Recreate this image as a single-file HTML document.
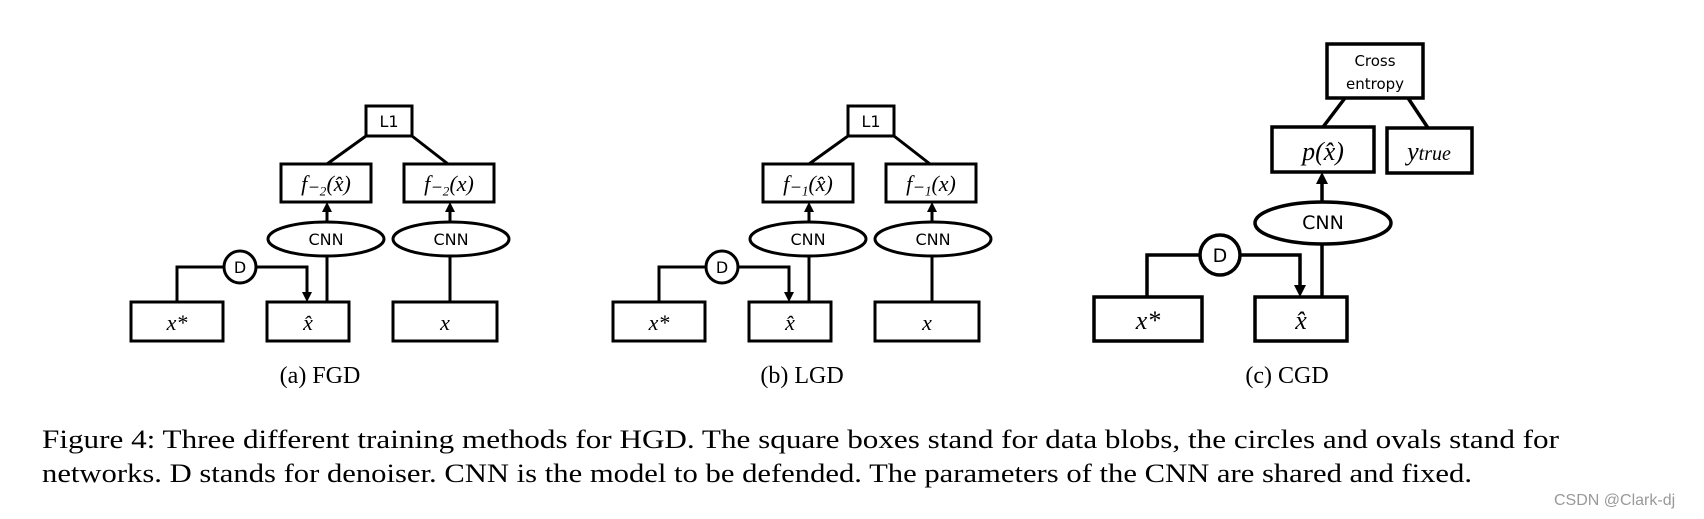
<!DOCTYPE html>
<html><head><meta charset="utf-8"><style>
html,body{margin:0;padding:0;background:#fff;}
svg{display:block}
.s{font-family:"DejaVu Sans","Liberation Sans",sans-serif;}
.m{font-family:"Liberation Serif",serif;font-style:italic;}
.c{font-family:"Liberation Serif",serif;}
</style></head><body>
<svg width="1704" height="519" viewBox="0 0 1704 519" xmlns="http://www.w3.org/2000/svg">
<defs>
<marker id="ar" markerWidth="8" markerHeight="8" refX="6" refY="4" orient="auto" markerUnits="userSpaceOnUse">
<path d="M0,0 L7,4 L0,8 Z" fill="#000"/></marker>
<g id="panel" fill="none" stroke="#000" stroke-width="3">
<rect x="131" y="302" width="92" height="39"/>
<rect x="267" y="302" width="82" height="39"/>
<rect x="393" y="302" width="104" height="39"/>
<rect x="366" y="106" width="46" height="30"/>
<rect x="281" y="164" width="90" height="38"/>
<rect x="404" y="164" width="90" height="38"/>
<ellipse cx="326" cy="239" rx="58" ry="17" fill="#fff"/>
<ellipse cx="451" cy="239" rx="58" ry="17" fill="#fff"/>
<circle cx="240" cy="267" r="16" fill="#fff"/>
<polyline points="177,302 177,267 224,267"/>
<polyline points="256,267 307,267 307,294"/>
<path d="M302,292 L307,302 L312,292 Z" fill="#000" stroke="none"/>
<line x1="327" y1="302" x2="327" y2="256"/>
<line x1="327" y1="222" x2="327" y2="210"/>
<path d="M322,212 L327,202 L332,212 Z" fill="#000" stroke="none"/>
<line x1="450" y1="302" x2="450" y2="256"/>
<line x1="450" y1="222" x2="450" y2="210"/>
<path d="M445,212 L450,202 L455,212 Z" fill="#000" stroke="none"/>
<line x1="366" y1="136" x2="327" y2="164"/>
<line x1="412" y1="136" x2="448" y2="164"/>
</g>
</defs>
<use href="#panel"/>
<use href="#panel" x="482"/>
<g class="s" font-size="16" text-anchor="middle">
<text x="389" y="127">L1</text><text x="871" y="127">L1</text>
<text x="326" y="245">CNN</text><text x="451" y="245">CNN</text>
<text x="808" y="245">CNN</text><text x="933" y="245">CNN</text>
<text x="240" y="273">D</text><text x="722" y="273">D</text>
</g>
<g class="m" font-size="22" text-anchor="middle">
<text x="177" y="330">x*</text><text x="308" y="330">x̂</text><text x="445" y="330">x</text>
<text x="659" y="330">x*</text><text x="790" y="330">x̂</text><text x="927" y="330">x</text>
<text x="326" y="191">f₋₂(x̂)</text><text x="449" y="191">f₋₂(x)</text>
<text x="808" y="191">f₋₁(x̂)</text><text x="931" y="191">f₋₁(x)</text>
</g>
<g fill="none" stroke="#000" stroke-width="3.5">
<rect x="1327" y="44" width="96" height="54"/>
<rect x="1272" y="127" width="102" height="45"/>
<rect x="1387" y="128" width="85" height="45"/>
<rect x="1094" y="297" width="108" height="44"/>
<rect x="1255" y="297" width="92" height="44"/>
<ellipse cx="1323" cy="223" rx="68" ry="21" fill="#fff"/>
<circle cx="1220" cy="255" r="20" fill="#fff"/>
<polyline points="1147,297 1147,255 1200,255"/>
<polyline points="1240,255 1300,255 1300,287"/>
<line x1="1322" y1="297" x2="1322" y2="244"/>
<line x1="1322" y1="202" x2="1322" y2="184"/>
<line x1="1345" y1="98" x2="1323" y2="127"/>
<line x1="1408" y1="98" x2="1428" y2="128"/>
</g>
<path d="M1294,285 L1300,297 L1306,285 Z" fill="#000"/>
<path d="M1316,184 L1322,172 L1328,184 Z" fill="#000"/>
<g class="s" text-anchor="middle">
<text x="1375" y="66" font-size="15">Cross</text>
<text x="1375" y="89" font-size="15">entropy</text>
<text x="1323" y="229" font-size="19">CNN</text>
<text x="1220" y="262" font-size="19">D</text>
</g>
<g class="m" text-anchor="middle" font-size="26">
<text x="1148" y="329">x*</text><text x="1301" y="329">x̂</text>
<text x="1323" y="160">p(x̂)</text>
<text x="1429" y="160">y<tspan font-size="20">true</tspan></text>
</g>
<g class="c" font-size="24" text-anchor="middle">
<text x="320" y="383">(a) FGD</text>
<text x="802" y="383">(b) LGD</text>
<text x="1287" y="383">(c) CGD</text>
</g>
<g class="c" font-size="26">
<text x="42" y="448" textLength="1517" lengthAdjust="spacingAndGlyphs">Figure 4: Three different training methods for HGD. The square boxes stand for data blobs, the circles and ovals stand for</text>
<text x="42" y="482" textLength="1430" lengthAdjust="spacingAndGlyphs">networks. D stands for denoiser. CNN is the model to be defended. The parameters of the CNN are shared and fixed.</text>
</g>
<text x="1554" y="505" font-family="Liberation Sans,sans-serif" font-size="16" fill="#999">CSDN @Clark-dj</text>
</svg>
</body></html>
